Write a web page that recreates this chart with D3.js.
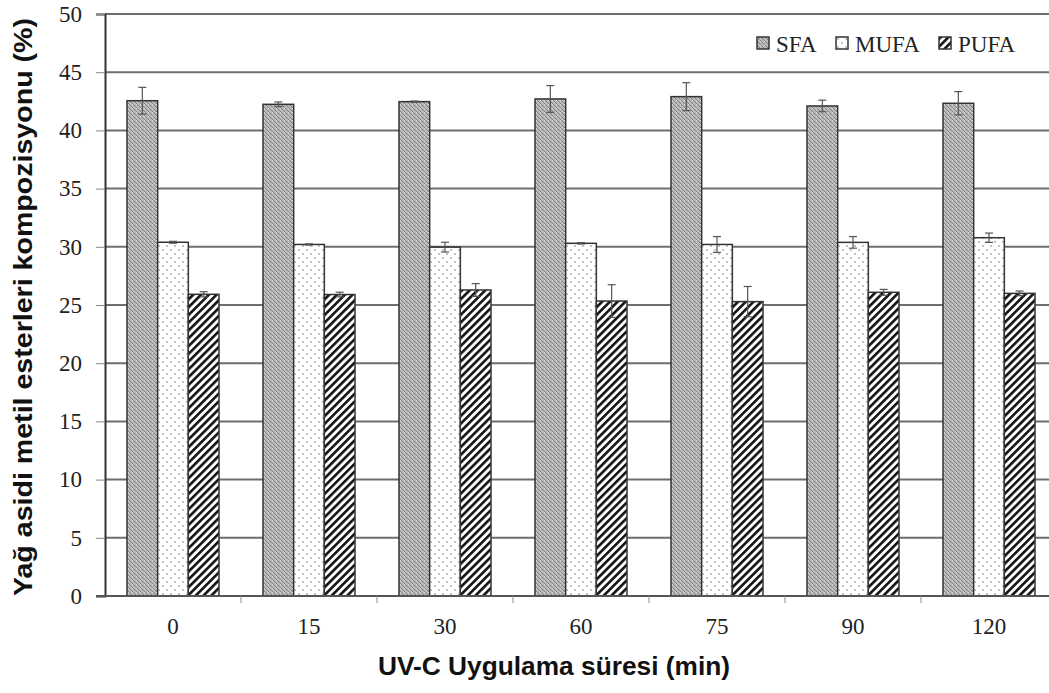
<!DOCTYPE html>
<html>
<head>
<meta charset="utf-8">
<script src="https://cdn.jsdelivr.net/npm/d3@7"></script>
<style>
  body { margin: 0; background: #fff; }
  svg { display: block; }
</style>
</head>
<body>
<svg width="1049" height="693"></svg>
<script>
var times = ["0", "15", "30", "60", "75", "90", "120"];
var seriesNames = ["SFA", "MUFA", "PUFA"];
var sfa = [42.55, 42.24, 42.47, 42.7, 42.9, 42.1, 42.33];
var mufa = [30.39, 30.2, 29.97, 30.3, 30.2, 30.38, 30.78];
var pufa = [25.92, 25.9, 26.29, 25.34, 25.29, 26.09, 26.0];
var sfaErr = [1.15, 0.2, 0.05, 1.15, 1.2, 0.5, 1.0];
var mufaErr = [0.08, 0.05, 0.42, 0.06, 0.68, 0.5, 0.4];
var pufaErr = [0.22, 0.2, 0.55, 1.4, 1.3, 0.25, 0.2];
var yTicks = [0, 5, 10, 15, 20, 25, 30, 35, 40, 45, 50];

var svg = d3.select("svg");
var plotLeft = 105, plotRight = 1057, plotTop = 14, plotBottom = 596;
var serif = "'Liberation Serif', 'Times New Roman', serif";

var values = [sfa, mufa, pufa];
var errs = [sfaErr, mufaErr, pufaErr];
var rows = times.map(function(t, i) {
    return {
        time: t,
        bars: seriesNames.map(function(s, j) {
            return { key: s, value: values[j][i], err: errs[j][i] };
        })
    };
});

var x0 = d3.scaleBand().domain(times).range([plotLeft, plotRight]);
var x1 = d3.scaleBand().domain(seriesNames).range([22, x0.bandwidth() - 22]);
var y = d3.scaleLinear().domain([0, 50]).range([plotBottom, plotTop]);

// patterns
var defs = svg.append("defs");
var pS = defs.append("pattern").attr("id", "pat-SFA")
    .attr("patternUnits", "userSpaceOnUse").attr("width", 4).attr("height", 4);
pS.append("rect").attr("width", 4).attr("height", 4).attr("fill", "#bcbcbc");
pS.append("path").attr("d", "M-1,-1L5,5M-1,3L1,5M3,-1L5,1").attr("stroke", "#7d7d7d").attr("stroke-width", 1);
pS.append("rect").attr("x", 3).attr("y", 0).attr("width", 1).attr("height", 1).attr("fill", "#e4e4e4");

var pM = defs.append("pattern").attr("id", "pat-MUFA")
    .attr("patternUnits", "userSpaceOnUse").attr("width", 8).attr("height", 8);
pM.append("rect").attr("width", 8).attr("height", 8).attr("fill", "#fff");
pM.append("circle").attr("cx", 2).attr("cy", 2).attr("r", 0.9).attr("fill", "#a8a8a8");
pM.append("circle").attr("cx", 6).attr("cy", 6).attr("r", 0.9).attr("fill", "#a8a8a8");

var pP = defs.append("pattern").attr("id", "pat-PUFA")
    .attr("patternUnits", "userSpaceOnUse").attr("width", 5.5).attr("height", 5.5)
    .attr("patternTransform", "rotate(45)");
pP.append("rect").attr("width", 5.5).attr("height", 5.5).attr("fill", "#fff");
pP.append("rect").attr("x", 0).attr("width", 2.6).attr("height", 5.5).attr("fill", "#111");

// gridlines
svg.append("g").selectAll("line")
    .data(yTicks.filter(function(d) { return d > 0; }))
    .enter().append("line")
    .attr("x1", plotLeft).attr("x2", plotRight)
    .attr("y1", function(d) { return y(d); })
    .attr("y2", function(d) { return y(d); })
    .attr("stroke", "#6e6e6e")
    .attr("stroke-width", 2);

// bars
var group = svg.append("g").selectAll("g")
    .data(rows)
    .enter().append("g")
    .attr("transform", function(d) { return "translate(" + x0(d.time) + ",0)"; });

group.selectAll("rect")
    .data(function(d) { return d.bars; })
    .enter().append("rect")
    .attr("x", function(d) { return x1(d.key); })
    .attr("width", x1.bandwidth())
    .attr("y", function(d) { return y(d.value); })
    .attr("height", function(d) { return y(0) - y(d.value); })
    .attr("fill", function(d) { return "url(#pat-" + d.key + ")"; })
    .attr("stroke", "#333")
    .attr("stroke-width", 1.5);

// error bars
var eb = group.selectAll("g.err")
    .data(function(d) { return d.bars; })
    .enter().append("g").attr("class", "err")
    .attr("stroke", "#555").attr("stroke-width", 1.2);
eb.append("line")
    .attr("x1", function(d) { return x1(d.key) + x1.bandwidth() / 2; })
    .attr("x2", function(d) { return x1(d.key) + x1.bandwidth() / 2; })
    .attr("y1", function(d) { return y(d.value + d.err); })
    .attr("y2", function(d) { return y(d.value - d.err); });
eb.selectAll("line.cap")
    .data(function(d) { return [d.value + d.err, d.value - d.err].map(function(v) { return { key: d.key, v: v }; }); })
    .enter().append("line").attr("class", "cap")
    .attr("x1", function(d) { return x1(d.key) + x1.bandwidth() / 2 - 4; })
    .attr("x2", function(d) { return x1(d.key) + x1.bandwidth() / 2 + 4; })
    .attr("y1", function(d) { return y(d.v); })
    .attr("y2", function(d) { return y(d.v); });

// y axis
var yAxis = svg.append("g")
    .attr("transform", "translate(" + plotLeft + ",0)")
    .call(d3.axisLeft(y).tickValues(yTicks).tickSize(9).tickPadding(14));
yAxis.select(".domain").attr("stroke", "#333").attr("stroke-width", 2);
yAxis.selectAll(".tick line").attr("stroke", "#888");
yAxis.selectAll("text")
    .attr("font-family", serif)
    .attr("font-size", 23).attr("fill", "#222");

// x axis
var xAxis = svg.append("g")
    .attr("transform", "translate(0," + plotBottom + ")");
xAxis.append("line")
    .attr("x1", plotLeft - 9).attr("x2", plotRight)
    .attr("stroke", "#555").attr("stroke-width", 2);
xAxis.selectAll("line.tk")
    .data(times.slice(1))
    .enter().append("line").attr("class", "tk")
    .attr("x1", function(d) { return x0(d); })
    .attr("x2", function(d) { return x0(d); })
    .attr("y1", 0).attr("y2", 7)
    .attr("stroke", "#888");
xAxis.selectAll("text")
    .data(times)
    .enter().append("text")
    .attr("x", function(d) { return x0(d) + x0.bandwidth() / 2; })
    .attr("y", 38)
    .attr("text-anchor", "middle")
    .attr("font-family", serif)
    .attr("font-size", 23).attr("fill", "#222")
    .text(function(d) { return d; });

// titles
svg.append("text")
    .attr("transform", "translate(32,307) rotate(-90)")
    .attr("text-anchor", "middle")
    .attr("font-family", "'Liberation Sans', Arial, sans-serif")
    .attr("font-weight", "bold").attr("font-size", 26).attr("fill", "#111")
    .attr("textLength", 578).attr("lengthAdjust", "spacingAndGlyphs")
    .text("Yağ asidi metil esterleri kompozisyonu (%)");

svg.append("text")
    .attr("x", 554).attr("y", 675)
    .attr("text-anchor", "middle")
    .attr("font-family", "'Liberation Sans', Arial, sans-serif")
    .attr("font-weight", "bold").attr("font-size", 26).attr("fill", "#111")
    .attr("textLength", 352).attr("lengthAdjust", "spacingAndGlyphs")
    .text("UV-C Uygulama süresi (min)");

// legend
var legendX = [757, 836, 939];
var legend = svg.append("g").selectAll("g")
    .data(seriesNames)
    .enter().append("g")
    .attr("transform", function(d, i) { return "translate(" + legendX[i] + ",37)"; });
legend.append("rect")
    .attr("width", 12).attr("height", 12)
    .attr("fill", function(d) { return "url(#pat-" + d + ")"; })
    .attr("stroke", "#333").attr("stroke-width", 1.5);
legend.append("text")
    .attr("x", 19).attr("y", 15)
    .attr("font-family", serif)
    .attr("font-size", 23).attr("fill", "#222")
    .text(function(d) { return d; });
</script>
</body>
</html>
